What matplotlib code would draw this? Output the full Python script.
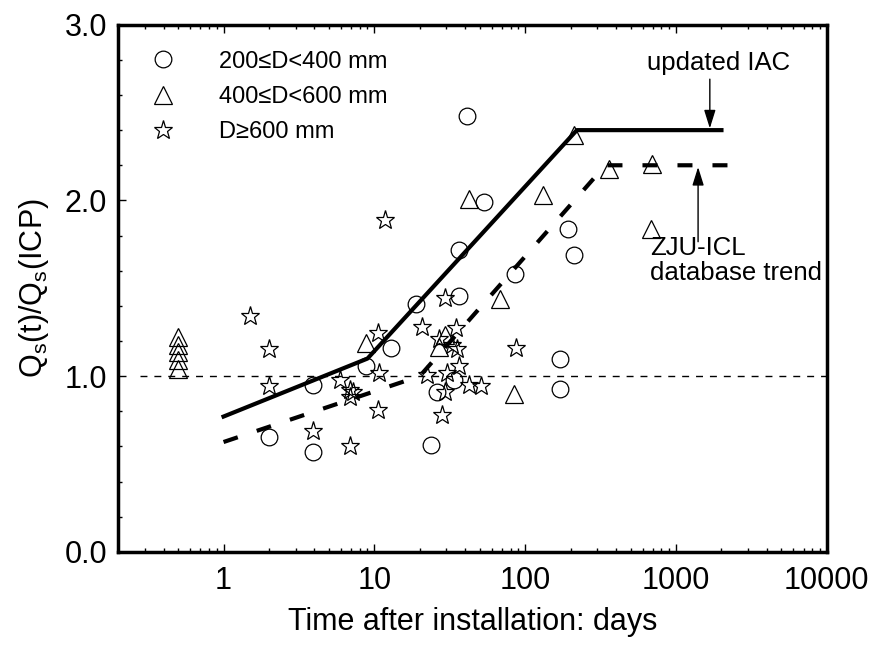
import numpy as np
import matplotlib
matplotlib.use("Agg")
import matplotlib.pyplot as plt
from matplotlib.ticker import LogLocator, FixedLocator, MultipleLocator, NullFormatter

plt.rcParams['font.family'] = ['Liberation Sans', 'DejaVu Sans']
plt.rcParams['mathtext.default'] = 'regular'

# data
# 200 <= D < 400 mm
t_small = [3.93, 1.99, 3.93, 8.8, 12.9, 18.8, 36.3, 36.3, 41.1, 52.9, 85.6,
           169, 169, 192, 212, 26.1, 33.6, 23.6]
r_small = [0.95, 0.653, 0.57, 1.06, 1.16, 1.41, 1.457, 1.715, 2.48, 1.99, 1.58,
           1.10, 0.926, 1.84, 1.69, 0.912, 0.979, 0.609]

# 400 <= D < 600 mm
t_mid = [0.5, 0.5, 0.5, 0.5, 0.5, 8.8, 26.8, 29.6, 42.2, 68.2, 84.3, 131, 212,
         361, 678, 695]
r_mid = [1.22, 1.18, 1.14, 1.09, 1.04, 1.19, 1.165, 1.235, 2.01, 1.44, 0.90, 2.03,
         2.37, 2.18, 1.84, 2.21]

# D >= 600 mm
t_large = [1.49, 1.99, 1.99, 3.93, 5.89, 6.85, 6.85, 6.85, 7.17, 10.5, 10.7, 10.5,
           11.8, 20.6, 22.4, 26.8, 28.1, 29.6, 29.6, 30.4, 32.7, 34.5, 35.3, 36.3,
           42.2, 51.1, 86.9]
r_large = [1.34, 1.154, 0.945, 0.685, 0.979, 0.922, 0.884, 0.60, 0.912, 1.245, 1.017,
           0.81, 1.89, 1.279, 1.007, 1.21, 0.78, 1.444, 0.912, 1.017, 1.178, 1.273,
           1.154, 1.055, 0.95, 0.945, 1.16]

# trend lines
iac_t = [1, 9, 220, 2000]
iac_r = [0.77, 1.1, 2.4, 2.4]
zju_t = [1, 20, 340, 2400]
zju_r = [0.625, 1.0, 2.2, 2.2]

fig = plt.figure(figsize=(8.75, 6.5), dpi=100)
ax = fig.add_axes([0.135, 0.151, 0.81, 0.811])

ax.plot([0.28, 10000], [1.0, 1.0], color='black', lw=1.0, dashes=(5, 5))
ax.plot(iac_t, iac_r, color='black', lw=3)
ax.plot(zju_t, zju_r, color='black', lw=3, dashes=(3.6, 4.8))

mk = dict(linestyle='none', mfc='none', mec='black', mew=0.9)
ax.plot(t_small, r_small, marker='o', ms=12, label='200≤D<400 mm', **mk)
ax.plot(t_mid, r_mid, marker='^', ms=13, label='400≤D<600 mm', **mk)
ax.plot(t_large, r_large, marker='*', ms=14, label='D≥600 mm', **mk)

ax.set_xscale('log')
ax.set_xlim(0.2, 10000)
ax.set_ylim(0, 3.0)
ax.xaxis.set_major_locator(FixedLocator([1, 10, 100, 1000, 10000]))
ax.set_xticklabels(['1', '10', '100', '1000', '10000'])
ax.xaxis.set_minor_locator(LogLocator(base=10, subs=np.arange(2, 10)))
ax.xaxis.set_minor_formatter(NullFormatter())
ax.set_yticks([0, 1, 2, 3])
ax.set_yticklabels(['0.0', '1.0', '2.0', '3.0'])
ax.yaxis.set_minor_locator(MultipleLocator(0.2))

ax.tick_params(which='both', direction='in', top=True, right=False, width=1.0)
ax.tick_params(which='major', length=6, labelsize=22)
ax.tick_params(axis='x', which='major', pad=10)
ax.tick_params(axis='y', which='major', pad=8)
ax.tick_params(which='minor', length=3)
for s in ax.spines.values():
    s.set_linewidth(2.5)

ax.set_xlabel('Time after installation: days', fontsize=22, labelpad=8)
ax.set_ylabel(r'Q$_s$(t)/Q$_s$(ICP)', fontsize=22, labelpad=10)

ax.legend(loc='upper left', bbox_to_anchor=(0.0085, 0.991), frameon=False, fontsize=17,
          handletextpad=1.6, labelspacing=0.56, borderaxespad=0.5, handlelength=1.5)

# arrows and their labels
arw = dict(arrowstyle='-|>,head_length=0.8,head_width=0.25', color='black', lw=1,
           shrinkA=0, shrinkB=0, mutation_scale=14)
ax.annotate('', xy=(1675, 2.41), xytext=(1675, 2.69), arrowprops=arw)
ax.text(1920, 2.743, 'updated IAC', fontsize=18.5, ha='center', va='baseline')
ax.annotate('', xy=(1400, 2.19), xytext=(1400, 1.765), arrowprops=arw)
ax.text(675, 1.80, 'ZJU-ICL\ndatabase trend', fontsize=18.5, ha='left', va='top',
        linespacing=1.05)

fig.savefig('out.png', dpi=100)
